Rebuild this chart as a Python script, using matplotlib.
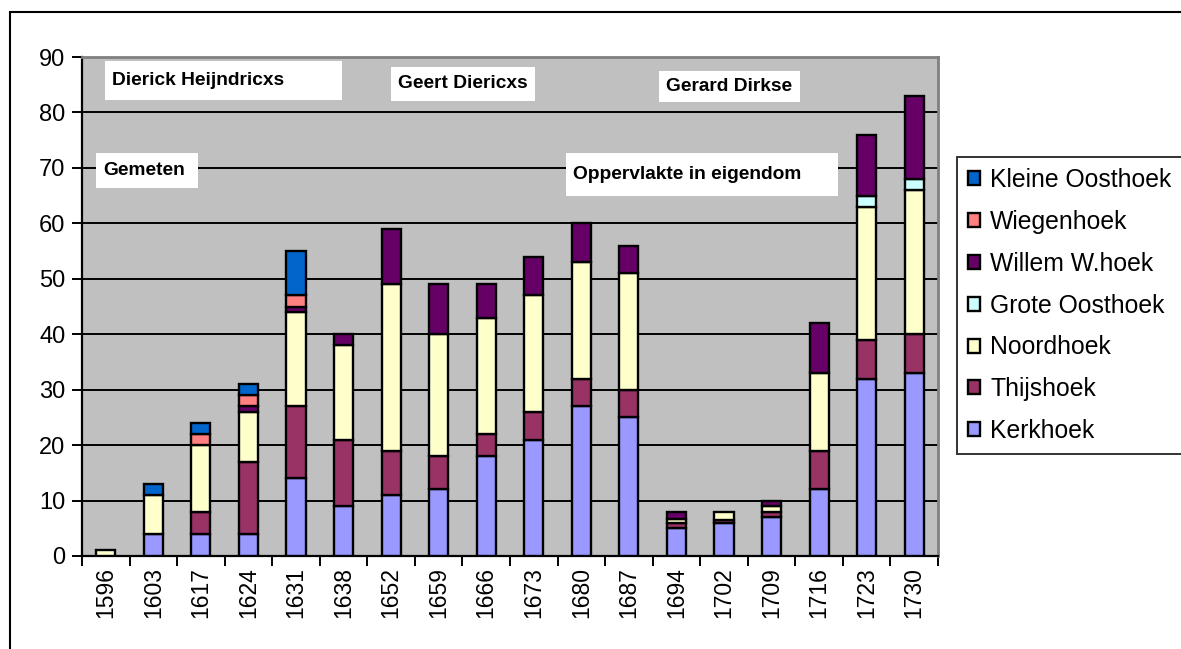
import matplotlib
matplotlib.use('Agg')
import matplotlib.pyplot as plt
from matplotlib.patches import Rectangle
import numpy as np

plt.rcParams['font.family'] = ['Liberation Sans', 'DejaVu Sans']

# data
years = ['1596', '1603', '1617', '1624', '1631', '1638', '1652', '1659', '1666',
         '1673', '1680', '1687', '1694', '1702', '1709', '1716', '1723', '1730']
kerkhoek = [0, 4, 4, 4, 14, 9, 11, 12, 18, 21, 27, 25, 5, 6, 7, 12, 32, 33]
thijshoek = [0, 0, 4, 13, 13, 12, 8, 6, 4, 5, 5, 5, 1, 0.5, 1, 7, 7, 7]
noordhoek = [1, 7, 12, 9, 17, 17, 30, 22, 21, 21, 21, 21, 0.7, 1.5, 1, 14, 24, 26]
grote_oosthoek = [0, 0, 0, 0, 0, 0, 0, 0, 0, 0, 0, 0, 0, 0, 0, 0, 2, 2]
willem_whoek = [0, 0, 0, 1, 1, 2, 10, 9, 6, 7, 7, 5, 1.3, 0, 1, 9, 11, 15]
wiegenhoek = [0, 0, 2, 2, 2, 0, 0, 0, 0, 0, 0, 0, 0, 0, 0, 0, 0, 0]
kleine_oosthoek = [0, 2, 2, 2, 8, 0, 0, 0, 0, 0, 0, 0, 0, 0, 0, 0, 0, 0]

series = [
    ('Kerkhoek', kerkhoek, '#9999FF'),
    ('Thijshoek', thijshoek, '#993366'),
    ('Noordhoek', noordhoek, '#FFFFCC'),
    ('Grote Oosthoek', grote_oosthoek, '#CCFFFF'),
    ('Willem W.hoek', willem_whoek, '#660066'),
    ('Wiegenhoek', wiegenhoek, '#FF8080'),
    ('Kleine Oosthoek', kleine_oosthoek, '#0066CC'),
]

W, H = 1181, 649
fig = plt.figure(figsize=(W / 100, H / 100), dpi=100, facecolor='white')


def fx(px):
    return px / W


def fy(py):
    return 1 - py / H


ax = fig.add_axes([fx(82), fy(556), fx(938) - fx(82), fy(57) - fy(556)])
ax.set_facecolor('#C0C0C0')

x = np.arange(len(years))
bottom = np.zeros(len(years))
handles = []
for name, vals, col in series:
    vals = np.array(vals, dtype=float)
    mask = vals > 0
    b = ax.bar(x[mask], vals[mask], 0.4, bottom=bottom[mask], color=col,
               edgecolor='black', linewidth=1.7, zorder=3)
    handles.append((b, name))
    bottom += vals

ax.set_xlim(-0.5, len(years) - 0.5)
ax.set_ylim(0, 90)
ax.set_yticks(range(0, 91, 10))
ax.yaxis.grid(True, color='black', linewidth=1.4, zorder=1)
ax.set_axisbelow(True)

ax.set_xticks(x)
ax.set_xticklabels(years, rotation=90, fontsize=16.5)
ax.set_xticks(np.arange(-0.5, len(years)), minor=True)
ax.tick_params(axis='x', which='major', length=0, pad=8)
ax.tick_params(axis='x', which='minor', length=7, width=1.4, direction='out')
ax.tick_params(axis='y', length=7, width=1.4, labelsize=17, pad=5)

for s in ['top', 'right']:
    ax.spines[s].set_color('#808080')
    ax.spines[s].set_linewidth(2)
for s in ['left', 'bottom']:
    ax.spines[s].set_color('black')
    ax.spines[s].set_linewidth(1.6)

# annotation boxes
notes = [
    ('Dierick Heijndricxs', 105, 61, 342, 100),
    ('Gemeten', 96, 153, 198, 188),
    ('Geert Diericxs', 391, 67, 535, 101),
    ('Gerard Dirkse', 659, 71, 800, 102),
    ('Oppervlakte in eigendom', 566, 153, 838, 196),
]
for txt, x0, y0, x1, y1 in notes:
    fig.add_artist(Rectangle((fx(x0), fy(y1)), fx(x1) - fx(x0), fy(y0) - fy(y1),
                             transform=fig.transFigure, facecolor='white',
                             edgecolor='none', zorder=5))
    fig.text(fx(x0 + 7), fy((y0 + y1) / 2), txt, fontsize=13.8, fontweight='bold',
             ha='left', va='center', zorder=6)

# outer frame
fig.add_artist(Rectangle((fx(10), fy(700)), fx(1250), fy(12) - fy(700),
                         transform=fig.transFigure, facecolor='none',
                         edgecolor='black', linewidth=1.5))

leg = fig.legend([h for h, _ in handles[::-1]], [n for _, n in handles[::-1]],
                 loc='upper left', bbox_to_anchor=(fx(957), fy(157)),
                 bbox_transform=fig.transFigure, fontsize=17.8, frameon=True,
                 fancybox=False, edgecolor='black', handlelength=0.5,
                 handleheight=0.5, handletextpad=0.4, labelspacing=0.72,
                 borderpad=0.45, borderaxespad=0)
leg.get_frame().set_linewidth(1.4)

fig.savefig('out.png', dpi=100, facecolor='white')
